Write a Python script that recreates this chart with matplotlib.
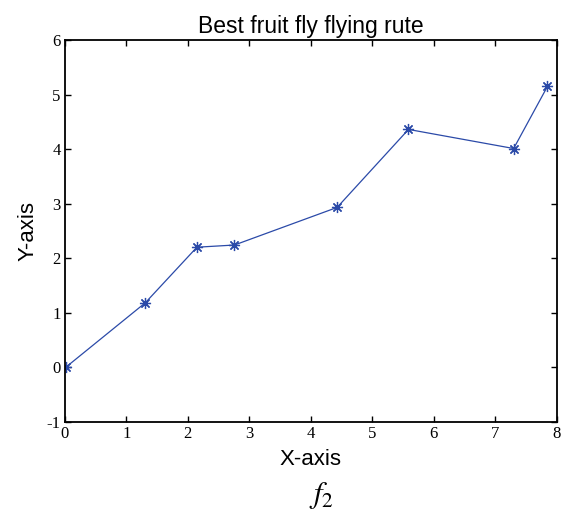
import numpy as np
import matplotlib
matplotlib.use("Agg")
import matplotlib.pyplot as plt

# best fruit fly route
x = [0.02, 1.31, 2.15, 2.76, 4.43, 5.59, 7.30, 7.85]
y = [0.00, 1.18, 2.20, 2.24, 2.93, 4.36, 4.01, 5.15]
xticks = [0, 1, 2, 3, 4, 5, 6, 7, 8]
yticks = [-1, 0, 1, 2, 3, 4, 5, 6]

plt.rcParams['axes.unicode_minus'] = False
plt.rcParams['mathtext.fontset'] = 'stix'

fig = plt.figure(figsize=(5.69, 5.27), dpi=100)
ax = fig.add_axes([0.1137, 0.1998, 0.8647, 0.7243])

ax.plot(x, y, color='#2b4aa8', lw=0.9, marker=(8, 2, 0), ms=8, mew=0.9)

ax.set_xlim(0, 8)
ax.set_ylim(-1, 6)
ax.set_xticks(xticks)
ax.set_yticks(yticks)
ax.tick_params(direction='in', top=True, right=True, length=4, width=1,
               labelsize=12, pad=3)
for lab in ax.get_xticklabels() + ax.get_yticklabels():
    lab.set_family('Liberation Serif')
for s in ax.spines.values():
    s.set_linewidth(1.3)

ax.set_title("Best fruit fly flying rute", family='Liberation Sans', fontsize=16.5, pad=5)
ax.set_xlabel("X-axis", family='Liberation Sans', fontsize=16, labelpad=5)
ax.set_ylabel("Y-axis", family='Liberation Sans', fontsize=16, labelpad=6)

fig.text(0.565, 0.045, r"$f_2$", fontsize=22, ha='center', va='baseline')

plt.savefig("out.png")
